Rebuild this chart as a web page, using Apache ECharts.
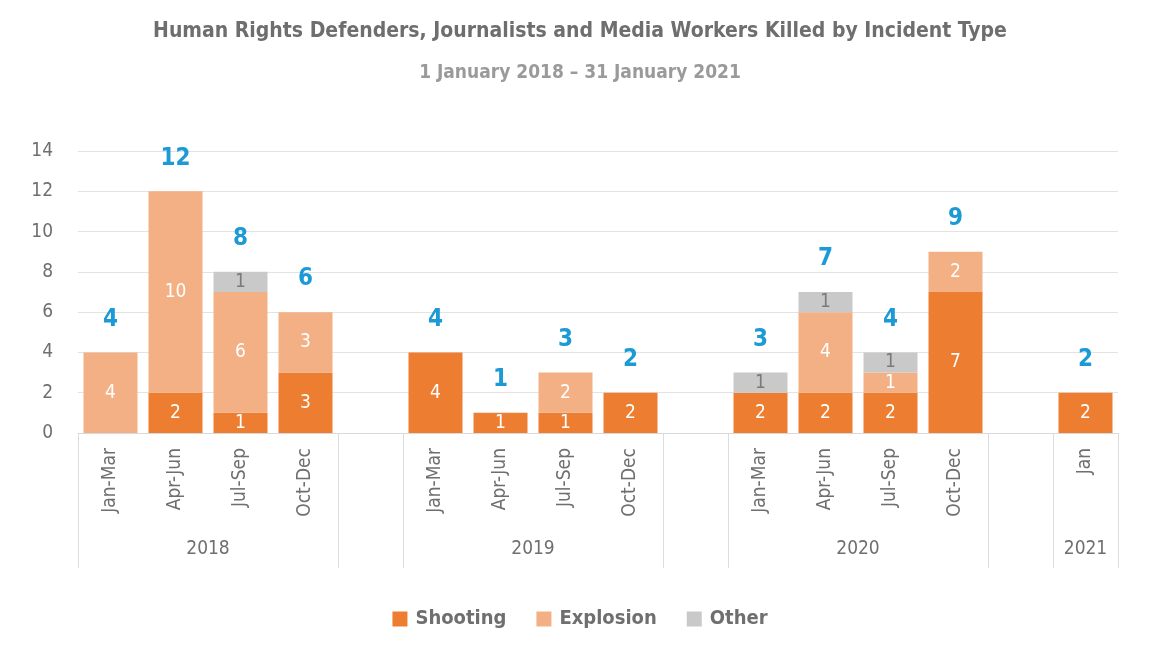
<!DOCTYPE html>
<html>
<head>
<meta charset="utf-8">
<script src="https://cdn.jsdelivr.net/npm/echarts@6/dist/echarts.min.js"></script>
<style>
  html, body { margin: 0; padding: 0; background: #fff; }
  #chart { width: 1160px; height: 645px; }
</style>
</head>
<body>
<div id="chart"></div>
<script>
// 每组之间留一个空位（'' / null）
const categories = ['Jan-Mar', 'Apr-Jun', 'Jul-Sep', 'Oct-Dec', '',
  'Jan-Mar', 'Apr-Jun', 'Jul-Sep', 'Oct-Dec', '',
  'Jan-Mar', 'Apr-Jun', 'Jul-Sep', 'Oct-Dec', '',
  'Jan']
const years = ['2018', '2019', '2020', '2021']
const shooting = [0, 2, 1, 3, null, 4, 1, 1, 2, null, 2, 2, 2, 7, null, 2]
const explosion = [4, 10, 6, 3, null, 0, 0, 2, 0, null, 0, 4, 1, 2, null, 0]
const other = [0, 0, 1, 0, null, 0, 0, 0, 0, null, 1, 1, 1, 0, null, 0]
const yTicks = [0, 2, 4, 6, 8, 10, 12, 14]

const FONT = '"Liberation Sans Narrow", "DejaVu Sans Condensed", sans-serif'

// 合计
const totals = categories.map((c, i) => c === '' ? null : (shooting[i] || 0) + (explosion[i] || 0) + (other[i] || 0))

// 年份分组的边界和中心
let bounds = []
let centers = []
let start = 0
categories.forEach((c, i) => {
  if (c === '') {
    bounds.push(start, i)
    centers.push((start + i) / 2)
    start = i + 1
  }
})
bounds.push(start, categories.length)
centers.push((start + categories.length) / 2)

const hideZero = p => (p.value ? p.value : '')

const chart = echarts.init(document.getElementById('chart'))
chart.setOption({
  animation: false,
  textStyle: { fontFamily: FONT },
  title: {
    text: 'Human Rights Defenders, Journalists and Media Workers Killed by Incident Type',
    subtext: '1 January 2018 – 31 January 2021',
    left: 'center',
    top: 16,
    itemGap: 22,
    textStyle: { fontFamily: FONT, fontSize: 21, fontWeight: 'bold', color: '#6e6e6e' },
    subtextStyle: { fontFamily: FONT, fontSize: 19, fontWeight: 'bold', color: '#9a9a9a' }
  },
  legend: {
    bottom: 11,
    left: 'center',
    data: ['Shooting', 'Explosion', 'Other'],
    itemWidth: 15,
    itemHeight: 15,
    itemGap: 30,
    icon: 'rect',
    textStyle: { fontFamily: FONT, fontSize: 20, color: '#6f6f6f', fontWeight: 'bold', padding: [0, 0, 0, 3] }
  },
  grid: { left: 78, right: 42, top: 151, bottom: 212 },
  xAxis: [{
    type: 'category',
    data: categories,
    axisLine: { lineStyle: { color: '#d9d9d9' } },
    axisTick: { show: false },
    axisLabel: {
      rotate: 90,
      interval: 0,
      margin: 15,
      fontSize: 19,
      color: '#6f6f6f',
      fontFamily: FONT
    }
  }, {
    type: 'value',
    position: 'bottom',
    min: 0,
    max: categories.length,
    interval: 0.5,
    axisLine: { show: false },
    splitLine: { show: false },
    axisTick: {
      show: true,
      inside: false,
      length: 135,
      customValues: bounds,
      lineStyle: { color: '#dcdcdc' }
    },
    axisLabel: {
      customValues: centers,
      margin: 107,
      fontSize: 19,
      color: '#6f6f6f',
      fontFamily: FONT,
      formatter: v => years[centers.indexOf(v)] || ''
    }
  }],
  yAxis: {
    type: 'value',
    min: 0,
    max: yTicks[yTicks.length - 1],
    interval: yTicks[1] - yTicks[0],
    axisLine: { show: false },
    axisTick: { show: false },
    splitLine: { lineStyle: { color: '#e3e3e3' } },
    axisLabel: { fontSize: 19, color: '#6f6f6f', margin: 25, fontFamily: FONT }
  },
  series: [{
    name: 'Shooting',
    type: 'bar',
    stack: 'all',
    barWidth: 54,
    data: shooting,
    itemStyle: { color: '#ED7D31' },
    label: { show: true, position: 'inside', color: '#fff', fontSize: 19, fontFamily: FONT, formatter: hideZero }
  }, {
    name: 'Explosion',
    type: 'bar',
    stack: 'all',
    data: explosion,
    itemStyle: { color: '#F3B084' },
    label: { show: true, position: 'inside', color: '#fff', fontSize: 19, fontFamily: FONT, formatter: hideZero }
  }, {
    name: 'Other',
    type: 'bar',
    stack: 'all',
    data: other,
    itemStyle: { color: '#C9C9C9' },
    label: { show: true, position: 'inside', color: '#7a7a7a', fontSize: 19, fontFamily: FONT, formatter: hideZero }
  }, {
    name: 'Total',
    type: 'bar',
    stack: 'all',
    data: totals.map(t => (t === null ? null : 0)),
    itemStyle: { color: 'transparent' },
    label: {
      show: true,
      position: 'top',
      distance: 21,
      color: '#1B9AD6',
      fontSize: 24,
      fontWeight: 'bold',
      fontFamily: FONT,
      formatter: p => (totals[p.dataIndex] === null ? '' : totals[p.dataIndex])
    }
  }]
})
</script>
</body>
</html>
